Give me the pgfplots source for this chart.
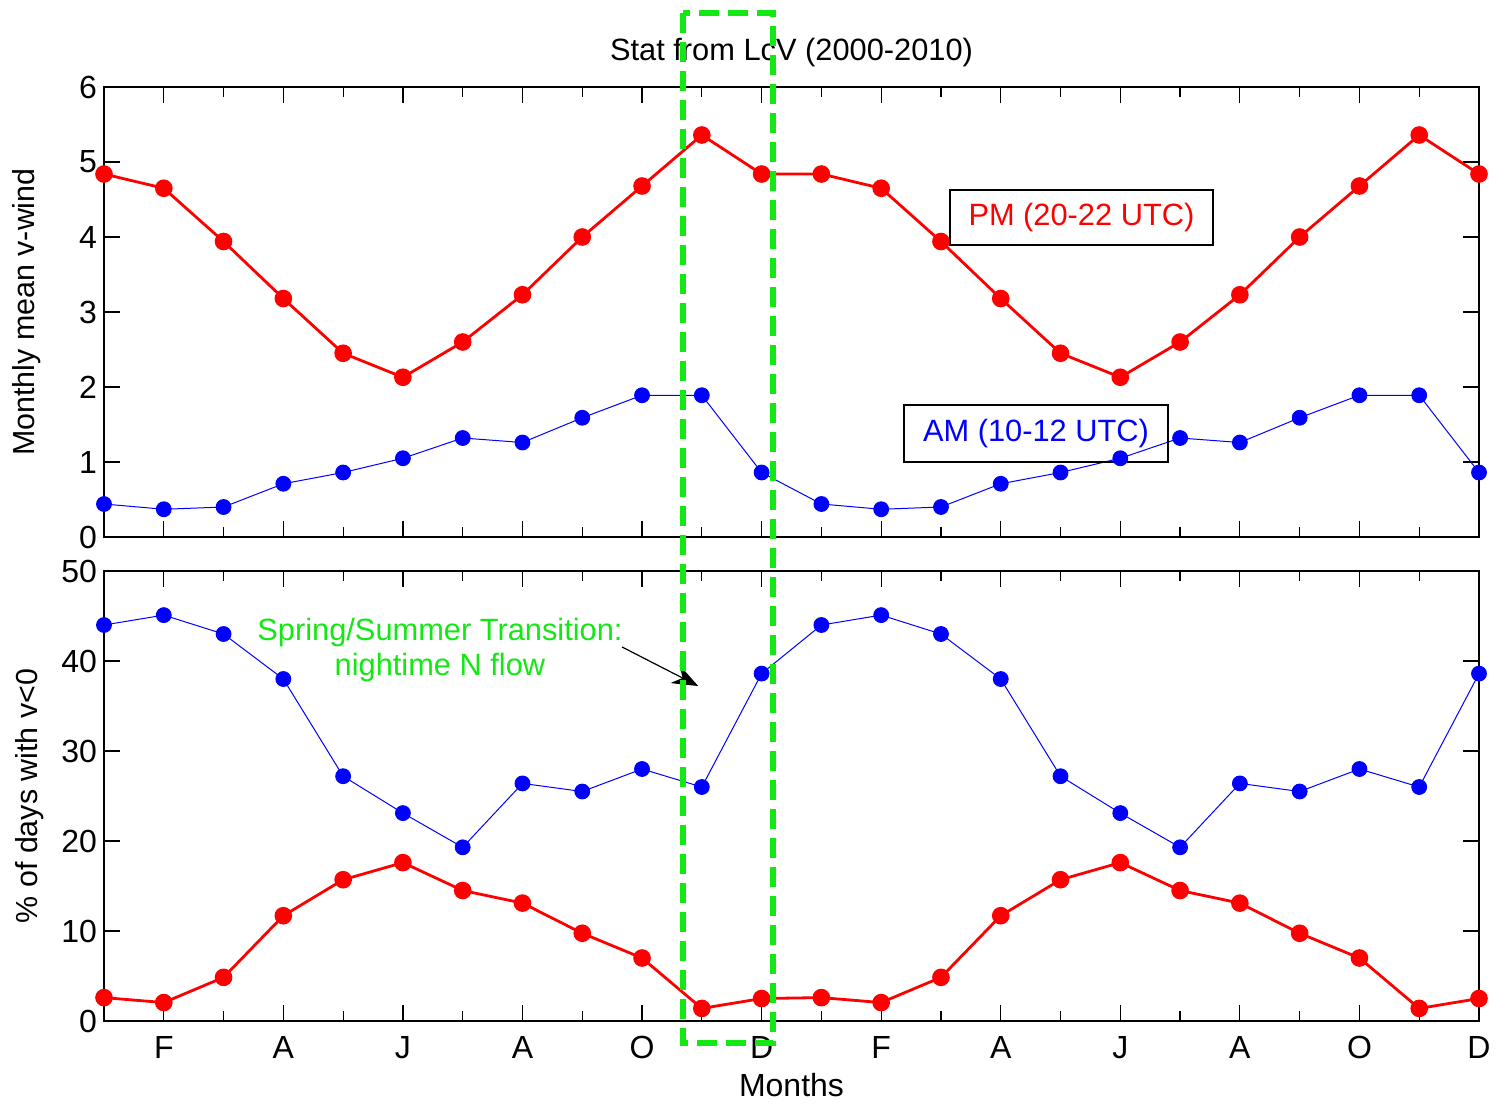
\documentclass[border=0pt]{standalone}
\usepackage{pgfplots}
\pgfplotsset{compat=1.18}
\usepackage{fontspec}
\setmainfont{Liberation Sans}
\usetikzlibrary{arrows.meta}
\definecolor{lgreen}{RGB}{20,232,20}
\begin{document}
\begin{tikzpicture}
\path[use as bounding box] (0,0) rectangle (749.5pt,-554.5pt);
\pgfplotsset{
  mystyle/.style={
    scale only axis, width=687.5pt, height=225pt,
    xmin=1, xmax=24, xtick={2,4,...,24}, minor xtick={1,3,...,23},
    tick align=inside, major tick length=8pt, minor tick length=5pt,
    axis line style={line width=0.8pt}, tick style={black, line width=0.6pt},
    tick label style={font=\fontsize{16}{19}\selectfont},
    xticklabel style={yshift=-4pt},
    /pgf/number format/assume math mode=true,
    clip=false,
  },
  pm/.style={red, line width=1.4pt, mark=*, mark size=3.7pt, mark options={solid, fill=red, draw=red}},
  am/.style={blue, line width=0.5pt, mark=*, mark size=3.7pt, mark options={solid, fill=blue, draw=blue}},
}
\begin{axis}[mystyle, at={(52pt,-43.5pt)}, anchor=north west,
  ymin=0, ymax=6, ytick={0,1,...,6}, xticklabels={},
  title={Stat from LcV (2000-2010)},
  title style={at={(axis description cs:0.5,1)}, anchor=center, yshift=11pt, font=\fontsize{15.4}{18}\selectfont},
  ylabel={Monthly mean v-wind},
  every axis y label/.style={at={(axis description cs:-0.056,0.5)}, rotate=90, anchor=center, font=\fontsize{15.2}{18}\selectfont},
]
\addplot[pm] coordinates {(1,4.84)(2,4.65)(3,3.94)(4,3.18)(5,2.45)(6,2.13)(7,2.60)(8,3.23)(9,4.00)(10,4.68)(11,5.36)(12,4.84)
(13,4.84)(14,4.65)(15,3.94)(16,3.18)(17,2.45)(18,2.13)(19,2.60)(20,3.23)(21,4.00)(22,4.68)(23,5.36)(24,4.84)};
\addplot[am] coordinates {(1,0.44)(2,0.37)(3,0.40)(4,0.71)(5,0.86)(6,1.05)(7,1.32)(8,1.26)(9,1.59)(10,1.89)(11,1.89)(12,0.86)
(13,0.44)(14,0.37)(15,0.40)(16,0.71)(17,0.86)(18,1.05)(19,1.32)(20,1.26)(21,1.59)(22,1.89)(23,1.89)(24,0.86)};
\node[draw=black, line width=0.7pt, minimum width=131.5pt, minimum height=27.5pt, text=red, font=\fontsize{15.4}{18}\selectfont] at (axis cs:17.35,4.26) {PM (20-22 UTC)};
\node[draw=black, line width=0.7pt, minimum width=132pt, minimum height=28.5pt, text=blue, font=\fontsize{15.4}{18}\selectfont] at (axis cs:16.59,1.38) {AM (10-12 UTC)};
\end{axis}
\begin{axis}[mystyle, at={(52pt,-285.5pt)}, anchor=north west,
  ymin=0, ymax=50, ytick={0,10,...,50},
  xticklabels={F,A,J,A,O,D,F,A,J,A,O,D},
  xlabel={Months},
  every axis x label/.style={at={(axis description cs:0.5,0)}, anchor=center, yshift=-32pt, font=\fontsize{16}{19}\selectfont},
  ylabel={\% of days with v<0},
  every axis y label/.style={at={(axis description cs:-0.054,0.5)}, rotate=90, anchor=center, font=\fontsize{15.2}{18}\selectfont},
]
\addplot[am] coordinates {(1,44.0)(2,45.1)(3,43.0)(4,38.0)(5,27.2)(6,23.1)(7,19.3)(8,26.4)(9,25.5)(10,28.0)(11,26.0)(12,38.6)
(13,44.0)(14,45.1)(15,43.0)(16,38.0)(17,27.2)(18,23.1)(19,19.3)(20,26.4)(21,25.5)(22,28.0)(23,26.0)(24,38.6)};
\addplot[pm] coordinates {(1,2.6)(2,2.05)(3,4.85)(4,11.7)(5,15.7)(6,17.6)(7,14.5)(8,13.1)(9,9.75)(10,7.0)(11,1.4)(12,2.5)
(13,2.6)(14,2.05)(15,4.85)(16,11.7)(17,15.7)(18,17.6)(19,14.5)(20,13.1)(21,9.75)(22,7.0)(23,1.4)(24,2.5)};
\node[text=lgreen, align=center, font=\fontsize{15.4}{17.5}\selectfont] at (axis cs:6.62,41.25) {Spring/Summer Transition:\\nightime N flow};
\draw[black, line width=0.6pt, -{Stealth[length=13pt, width=10pt]}] (axis cs:9.665,41.56) -- (axis cs:10.94,37.22);
\end{axis}
\draw[lgreen, line width=3pt, dash pattern=on 10pt off 4.5pt] (341.5pt,-6.5pt) rectangle (386.5pt,-521.5pt);
\end{tikzpicture}
\end{document}
